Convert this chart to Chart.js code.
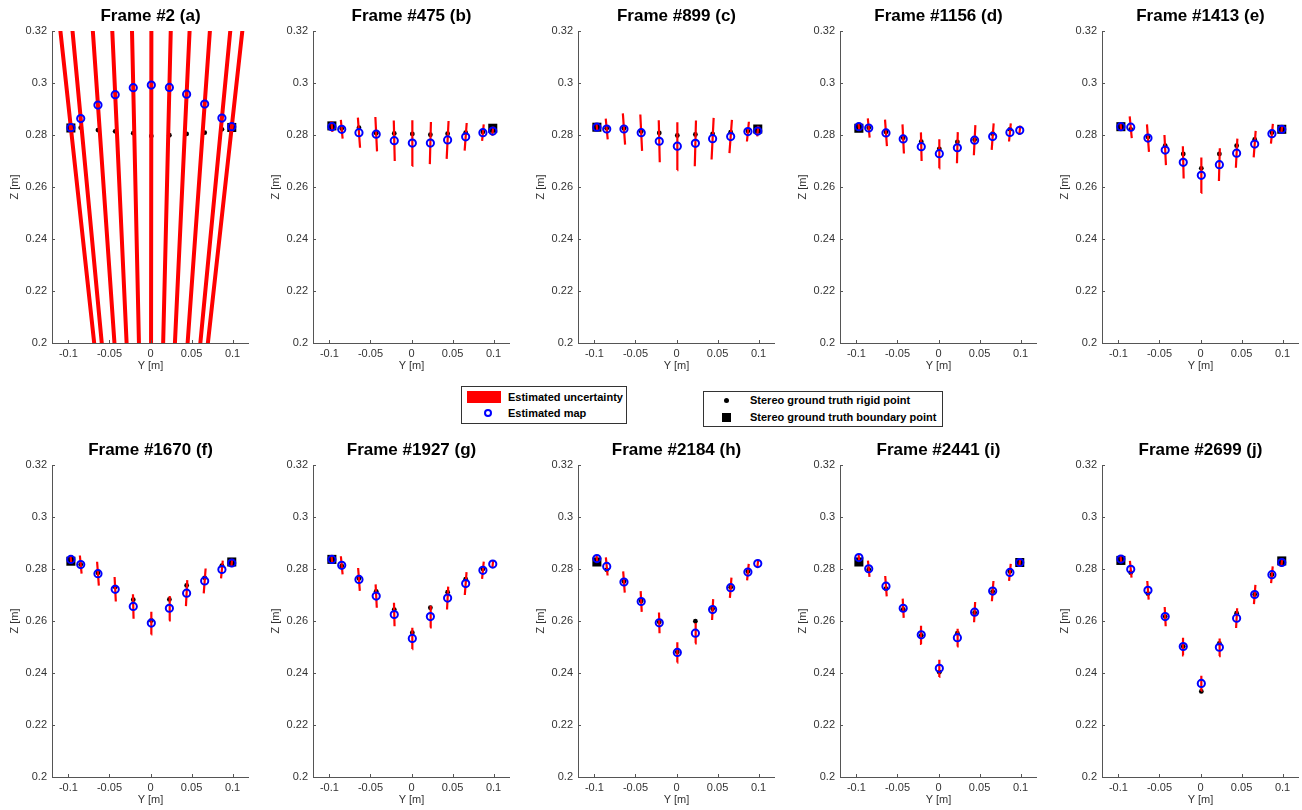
<!DOCTYPE html>
<html><head><meta charset="utf-8">
<script src="https://cdn.jsdelivr.net/npm/chart.js@4"></script>
<style>
body{margin:0;width:1302px;height:810px;background:#fff;position:relative;overflow:hidden;font-family:"Liberation Sans",Arial,sans-serif;}
canvas.pan{position:absolute;}
.leg{position:absolute;border:1px solid #333;background:#fff;box-sizing:border-box;}
.lt{position:absolute;font-weight:bold;font-size:11px;color:#000;line-height:12px;white-space:nowrap;}
.sym{position:absolute;box-sizing:border-box;}
</style></head><body>
<script>
// ---------- DATA ----------
const frameTitles = ["Frame #2 (a)","Frame #475 (b)","Frame #899 (c)","Frame #1156 (d)","Frame #1413 (e)",
                     "Frame #1670 (f)","Frame #1927 (g)","Frame #2184 (h)","Frame #2441 (i)","Frame #2699 (j)"];
const xTicks = [-0.1,-0.05,0,0.05,0.1];
const xTickLabels = ["-0.1","-0.05","0","0.05","0.1"];
const yTicks = [0.2,0.22,0.24,0.26,0.28,0.3,0.32];
const yTickLabels = ["0.2","0.22","0.24","0.26","0.28","0.3","0.32"];

// Y positions (m) of the ground-truth rigid points, boundary points and estimated map points
const rigidY = [-0.085,-0.064,-0.043,-0.021,0.001,0.023,0.044,0.066,0.087];
const boundaryY = [-0.097,0.099];
const mapY = [-0.097,-0.085,-0.064,-0.043,-0.021,0.001,0.023,0.044,0.066,0.087,0.099];

// Z values (m) per frame
const mapZ_a = [0.2828,0.2863,0.2915,0.2955,0.2982,0.2992,0.2983,0.2957,0.2919,0.2865,0.2832];
const rigidZ_a = [0.2828,0.2819,0.2814,0.2807,0.2796,0.2799,0.2804,0.2809,0.2822];
const boundZ_a = [0.2827,0.2829];
const uncH_a = [0.15,0.15,0.15,0.15,0.15,0.15,0.15,0.15,0.15,0.15,0.15];

const mapZ_b = [0.2832,0.2822,0.2809,0.2803,0.2778,0.2769,0.2769,0.2781,0.2793,0.2809,0.2815];
const rigidZ_b = [0.2825,0.2828,0.2807,0.2806,0.2804,0.2801,0.2805,0.2809,0.2812];
const boundZ_b = [0.2835,0.2826];
const uncH_b = [0.0020,0.0036,0.0058,0.0066,0.0078,0.0088,0.0081,0.0073,0.0053,0.0032,0.0017];

const mapZ_c = [0.2830,0.2823,0.2823,0.2809,0.2776,0.2757,0.2768,0.2786,0.2794,0.2813,0.2815];
const rigidZ_c = [0.2826,0.2825,0.2813,0.2808,0.2798,0.2802,0.2804,0.2811,0.2815];
const boundZ_c = [0.2830,0.2823];
const uncH_c = [0.0015,0.0040,0.0060,0.0070,0.0081,0.0092,0.0088,0.0080,0.0064,0.0038,0.0020];

const mapZ_d = [0.2832,0.2827,0.2808,0.2785,0.2755,0.2728,0.2751,0.2780,0.2794,0.2810,0.2818];
const rigidZ_d = [0.2828,0.2812,0.2789,0.2774,0.2747,0.2773,0.2782,0.2805,0.2822];
const boundZ_d = [0.2826,null];
const uncH_d = [0.0015,0.0037,0.0051,0.0056,0.0055,0.0056,0.0060,0.0058,0.0051,0.0035,0.0018];

const mapZ_e = [0.2832,0.2830,0.2788,0.2742,0.2695,0.2645,0.2686,0.2730,0.2765,0.2805,0.2822];
const rigidZ_e = [0.2822,0.2792,0.2759,0.2727,0.2672,0.2727,0.2759,0.2783,0.2809];
const boundZ_e = [0.2832,0.2822];
const uncH_e = [0.0015,0.0042,0.0053,0.0058,0.0062,0.0068,0.0063,0.0056,0.0051,0.0038,0.0016];

const mapZ_f = [0.2837,0.2817,0.2782,0.2722,0.2656,0.2592,0.2649,0.2707,0.2754,0.2798,0.2823];
const rigidZ_f = [0.2817,0.2785,0.2731,0.2682,0.2602,0.2683,0.2737,0.2766,0.2813];
const boundZ_f = [0.2830,0.2827];
const uncH_f = [0.0015,0.0035,0.0046,0.0047,0.0047,0.0044,0.0047,0.0050,0.0048,0.0034,0.0016];

const mapZ_g = [0.2837,0.2814,0.2760,0.2696,0.2625,0.2533,0.2617,0.2688,0.2744,0.2795,0.2819];
const rigidZ_g = [0.2812,0.2763,0.2714,0.2644,0.2555,0.2651,0.2711,0.2761,0.2800];
const boundZ_g = [0.2837,null];
const uncH_g = [0.0012,0.0035,0.0044,0.0045,0.0045,0.0041,0.0042,0.0044,0.0044,0.0033,0.0015];

const mapZ_h = [0.2840,0.2810,0.2750,0.2675,0.2593,0.2479,0.2553,0.2644,0.2728,0.2788,0.2821];
const rigidZ_h = [0.2797,0.2752,0.2677,0.2596,0.2481,0.2599,0.2647,0.2730,0.2790];
const boundZ_h = [0.2827,null];
const uncH_h = [0.0012,0.0035,0.0041,0.0040,0.0040,0.0039,0.0039,0.0040,0.0039,0.0032,0.0015];

const mapZ_i = [0.2844,0.2801,0.2734,0.2649,0.2547,0.2418,0.2536,0.2634,0.2715,0.2787,0.2825];
const rigidZ_i = [0.2798,0.2724,0.2645,0.2545,0.2403,0.2553,0.2632,0.2713,0.2790];
const boundZ_i = [0.2827,0.2825];
const uncH_i = [0.0012,0.0031,0.0039,0.0037,0.0035,0.0033,0.0034,0.0039,0.0039,0.0033,0.0016];

const mapZ_j = [0.2838,0.2799,0.2718,0.2617,0.2502,0.2360,0.2499,0.2611,0.2702,0.2778,0.2825];
const rigidZ_j = [0.2786,0.2705,0.2617,0.2502,0.2329,0.2514,0.2630,0.2702,0.2778];
const boundZ_j = [0.2833,0.2831];
const uncH_j = [0.0012,0.0032,0.0036,0.0037,0.0034,0.0029,0.0034,0.0038,0.0037,0.0032,0.0016];

const legendLabels = ["Estimated uncertainty","Estimated map","Stereo ground truth rigid point","Stereo ground truth boundary point"];

// ---------- LAYOUT ----------
const FONT = '"Liberation Sans", Arial, Helvetica, sans-serif';
const AX = '#555';
const colLefts = [52,313,578,840,1102];   // plot-area left edge per column
const rowTops = [31,465];                  // plot-area top edge per row
const YW = 53, PW = 197, PH = 312, TH = 31, XH = 40;

const frames = [
  [mapZ_a,rigidZ_a,boundZ_a,uncH_a],[mapZ_b,rigidZ_b,boundZ_b,uncH_b],[mapZ_c,rigidZ_c,boundZ_c,uncH_c],
  [mapZ_d,rigidZ_d,boundZ_d,uncH_d],[mapZ_e,rigidZ_e,boundZ_e,uncH_e],[mapZ_f,rigidZ_f,boundZ_f,uncH_f],
  [mapZ_g,rigidZ_g,boundZ_g,uncH_g],[mapZ_h,rigidZ_h,boundZ_h,uncH_h],[mapZ_i,rigidZ_i,boundZ_i,uncH_i],
  [mapZ_j,rigidZ_j,boundZ_j,uncH_j]
];

const innerTicks = {
  id:'innerTicks',
  afterDraw(chart){
    const {ctx, chartArea:a, scales:{x,y}} = chart;
    ctx.save(); ctx.strokeStyle = AX; ctx.lineWidth = 1; ctx.beginPath();
    x.ticks.forEach(t=>{const px=Math.round(x.getPixelForValue(t.value))+0.5; ctx.moveTo(px,a.bottom); ctx.lineTo(px,a.bottom-3);});
    y.ticks.forEach(t=>{const py=Math.round(y.getPixelForValue(t.value))+0.5; ctx.moveTo(a.left,py); ctx.lineTo(a.left+3,py);});
    ctx.stroke(); ctx.restore();
  }
};

frames.forEach((f,k)=>{
  const [mapZ,rigidZ,boundZ,uncH] = f;
  const col = k%5, row = Math.floor(k/5);
  const cv = document.createElement('canvas');
  cv.className='pan';
  cv.width = YW+PW; cv.height = TH+PH+XH;
  cv.style.left = (colLefts[col]-YW)+'px';
  cv.style.top = (rowTops[row]-TH)+'px';
  document.body.appendChild(cv);

  const mapPts = mapY.map((y,i)=>({x:y,y:mapZ[i]}));
  const rigidPts = rigidY.map((y,i)=>({x:y,y:rigidZ[i]}));
  const boundPts = boundaryY.map((y,i)=>({x:y,y:boundZ[i]})).filter(p=>p.y!==null);
  const uncPts = [];
  mapY.forEach((y,i)=>{
    const z = mapZ[i], h = uncH[i];
    uncPts.push({x:y*(z-h)/z, y:z-h},{x:y*(z+h)/z, y:z+h},{x:y, y:null});
  });

  new Chart(cv.getContext('2d'),{
    type:'scatter',
    data:{datasets:[
      {label:legendLabels[1], data:mapPts, pointStyle:'circle', pointRadius:3.6, borderColor:'#0000ff', backgroundColor:'rgba(0,0,0,0)', pointBorderWidth:2, order:0},
      {label:legendLabels[0], data:uncPts, showLine:true, spanGaps:false, borderColor:'#ff0000', borderWidth:(k===0?4:2.2), pointRadius:0, order:1},
      {label:legendLabels[2], data:rigidPts, pointStyle:'circle', pointRadius:2.4, backgroundColor:'#000', borderColor:'#000', pointBorderWidth:0, order:2},
      {label:legendLabels[3], data:boundPts, pointStyle:'rect', pointRadius:6.4, backgroundColor:'#000', borderColor:'#000', pointBorderWidth:0, order:3}
    ]},
    options:{
      animation:false, responsive:false, events:[],
      layout:{padding:0, autoPadding:false},
      plugins:{
        legend:{display:false}, tooltip:{enabled:false},
        title:{display:true, fullSize:false, text:frameTitles[k], color:'#000',
               font:{family:FONT,size:17,weight:'bold',lineHeight:1}, padding:{top:8,bottom:6}}
      },
      scales:{
        x:{type:'linear', min:-0.12, max:0.12,
           afterBuildTicks:s=>{s.ticks = xTicks.map(v=>({value:v}));},
           afterFit:s=>{s.height = XH; s.paddingLeft = 0; s.paddingRight = 0; s.paddingTop = 0; s.paddingBottom = 0;},
           grid:{display:false, drawTicks:false},
           border:{display:true, color:AX, width:1},
           ticks:{padding:4, color:'#333', autoSkip:false, maxRotation:0, font:{family:FONT,size:11},
                  callback:(v)=>xTickLabels[xTicks.indexOf(v)]},
           title:{display:true, text:'Y [m]', color:'#333', font:{family:FONT,size:11,lineHeight:1.2}, padding:{top:0,bottom:10.5}}
        },
        y:{type:'linear', min:0.2, max:0.32,
           afterBuildTicks:s=>{s.ticks = yTicks.map(v=>({value:v}));},
           afterFit:s=>{s.width = YW; s.paddingLeft = 0; s.paddingRight = 0; s.paddingTop = 0; s.paddingBottom = 0;},
           grid:{display:false, drawTicks:false},
           border:{display:true, color:AX, width:1},
           ticks:{padding:5, color:'#333', autoSkip:false, font:{family:FONT,size:11},
                  callback:(v)=>yTickLabels[yTicks.indexOf(v)]},
           title:{display:true, text:'Z [m]', color:'#333', font:{family:FONT,size:11,lineHeight:1.2}, padding:{top:9.5,bottom:0}}
        }
      }
    },
    plugins:[innerTicks]
  });
});

// ---------- LEGENDS (HTML, real text) ----------
function addEl(cls, css, text){
  const d=document.createElement('div'); d.className=cls; Object.assign(d.style,css);
  if(text) d.textContent=text; document.body.appendChild(d); return d;
}
addEl('leg',{left:'461px',top:'386px',width:'166px',height:'38px'});
addEl('sym',{left:'467px',top:'391px',width:'34px',height:'12px',background:'#ff0000'});
addEl('lt',{left:'508px',top:'391px'},legendLabels[0]);
addEl('sym',{left:'484px',top:'409px',width:'8px',height:'8px',border:'2px solid #0000ff',borderRadius:'50%'});
addEl('lt',{left:'508px',top:'407px'},legendLabels[1]);

addEl('leg',{left:'703px',top:'391px',width:'240px',height:'36px'});
addEl('sym',{left:'724px',top:'398px',width:'5px',height:'5px',background:'#000',borderRadius:'50%'});
addEl('lt',{left:'750px',top:'394px'},legendLabels[2]);
addEl('sym',{left:'722px',top:'413px',width:'9px',height:'9px',background:'#000'});
addEl('lt',{left:'750px',top:'411px'},legendLabels[3]);
</script>
</body></html>
